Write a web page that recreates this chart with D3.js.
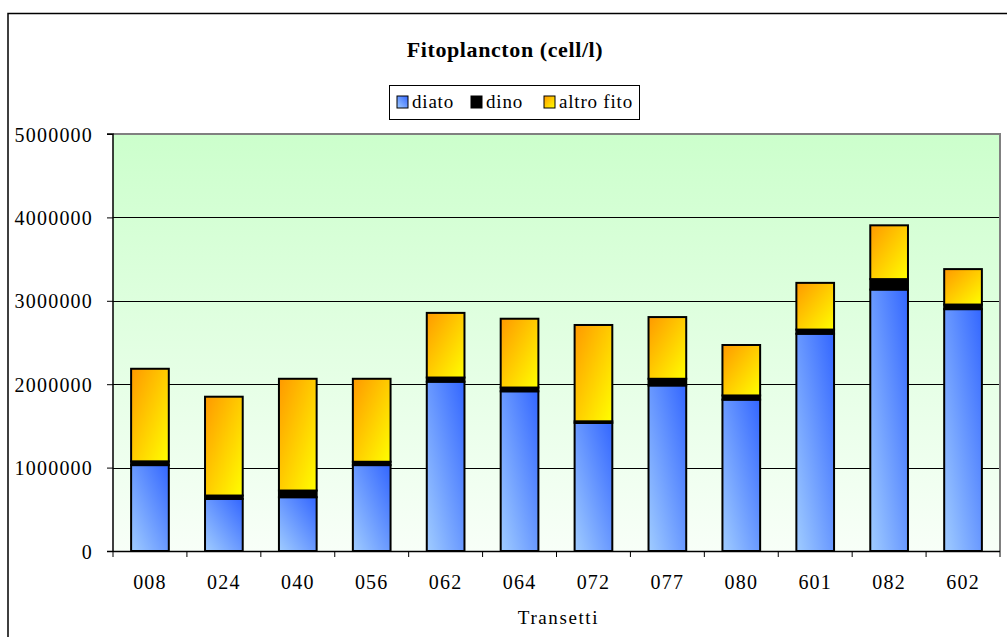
<!DOCTYPE html>
<html>
<head>
<meta charset="utf-8">
<script src="https://cdn.jsdelivr.net/npm/d3@7/dist/d3.min.js"></script>
<style>
  html, body { margin: 0; padding: 0; background: #ffffff; }
  svg { display: block; }
</style>
</head>
<body>
<svg id="chart" width="1007" height="637"></svg>
<script>
const categories = ["008","024","040","056","062","064","072","077","080","601","082","602"];
const diato = [1030000, 625000, 645000, 1030000, 2030000, 1915000, 1535000, 1985000, 1815000, 2605000, 3135000, 2900000];
const dino  = [45000, 40000, 80000, 40000, 50000, 45000, 20000, 80000, 50000, 50000, 125000, 55000];
const altro = [1110000, 1185000, 1340000, 995000, 775000, 825000, 1155000, 740000, 605000, 560000, 645000, 425000];
const seriesNames = ["diato", "dino", "altro fito"];
const yTicks = [0, 1000000, 2000000, 3000000, 4000000, 5000000];
const titleText = "Fitoplancton (cell/l)";
const xTitle = "Transetti";

const FONT = "'Liberation Serif', 'Times New Roman', serif";
const svg = d3.select("#chart");
const plot = { left: 113, right: 1000, top: 134, bottom: 551 };

const defs = svg.append("defs");
const bg = defs.append("linearGradient").attr("id", "bgGrad").attr("x1", 0).attr("y1", 0).attr("x2", 0).attr("y2", 1);
bg.append("stop").attr("offset", "0%").attr("stop-color", "#ccffcc");
bg.append("stop").attr("offset", "100%").attr("stop-color", "#f8fff8");

const blue = defs.append("linearGradient").attr("id", "blueGrad").attr("x1", 0).attr("y1", 1).attr("x2", 1).attr("y2", 0);
blue.append("stop").attr("offset", "0%").attr("stop-color", "#a0ccff");
blue.append("stop").attr("offset", "100%").attr("stop-color", "#3366ff");

const yel = defs.append("linearGradient").attr("id", "yelGrad").attr("x1", 0).attr("y1", 0).attr("x2", 1).attr("y2", 1);
yel.append("stop").attr("offset", "0%").attr("stop-color", "#ff9900");
yel.append("stop").attr("offset", "100%").attr("stop-color", "#ffff00");

const fills = ["url(#blueGrad)", "#000000", "url(#yelGrad)"];

// outer border
svg.append("rect").attr("x", 8).attr("y", 13.5).attr("width", 1010).attr("height", 640)
  .attr("fill", "#fff").attr("stroke", "#000").attr("stroke-width", 1.5);

const x = d3.scaleBand().domain(categories).range([plot.left, plot.right]).paddingInner(0.49).paddingOuter(0.245);
const xb = d3.scaleBand().domain(categories).range([plot.left, plot.right]);
const y = d3.scaleLinear().domain([0, 5000000]).range([plot.bottom, plot.top]);

// plot background
svg.append("rect").attr("x", plot.left).attr("y", plot.top)
  .attr("width", plot.right - plot.left).attr("height", plot.bottom - plot.top)
  .attr("fill", "url(#bgGrad)");

// gridlines
svg.append("g").selectAll("line").data(yTicks.filter(t => t > 0 && t < 5000000)).join("line")
  .attr("x1", plot.left).attr("x2", plot.right)
  .attr("y1", d => Math.round(y(d)) + 0.5).attr("y2", d => Math.round(y(d)) + 0.5)
  .attr("stroke", "#000").attr("stroke-width", 1);

// plot border top/right grey
svg.append("path")
  .attr("d", `M${plot.left},${plot.top} L${plot.right},${plot.top} L${plot.right},${plot.bottom}`)
  .attr("fill", "none").attr("stroke", "#808080").attr("stroke-width", 2);

// stacked data
const rows = categories.map((c, i) => ({ cat: c, diato: diato[i], dino: dino[i], altro: altro[i] }));
const stack = d3.stack().keys(["diato", "dino", "altro"]);
const layers = stack(rows);

svg.append("g").selectAll("g").data(layers).join("g")
  .attr("fill", (d, i) => fills[i])
  .selectAll("rect").data(d => d).join("rect")
  .attr("x", d => x(d.data.cat))
  .attr("width", x.bandwidth())
  .attr("y", d => y(d[1]))
  .attr("height", d => y(d[0]) - y(d[1]))
  .attr("stroke", "#000").attr("stroke-width", 2);

// y axis
const yAxis = d3.axisLeft(y).tickValues(yTicks).tickFormat(d3.format("d")).tickSize(6).tickPadding(14);
const gy = svg.append("g").attr("transform", `translate(${plot.left},0)`).call(yAxis);
gy.attr("font-family", null).attr("font-size", null);
gy.select(".domain").attr("stroke", "#000").attr("stroke-width", 1.5).attr("d", `M-6,${plot.top}H0V${plot.bottom}`);
gy.selectAll(".tick line").attr("stroke", "#000");
gy.selectAll(".tick text").style("font-family", FONT).style("font-size", "20px").style("letter-spacing", "1.2px")
  .attr("fill", "#000").attr("dy", "0.35em");

// x axis
const gx = svg.append("g").attr("transform", `translate(0,${plot.bottom})`);
gx.append("line").attr("x1", plot.left - 6).attr("x2", plot.right).attr("y1", 0.5).attr("y2", 0.5)
  .attr("stroke", "#000").attr("stroke-width", 1.5);
const bounds = categories.map(c => xb(c)).concat([plot.right]);
gx.selectAll("line.tk").data(bounds).join("line").attr("class", "tk")
  .attr("x1", d => d).attr("x2", d => d).attr("y1", 0).attr("y2", 6)
  .attr("stroke", "#000").attr("stroke-width", 1);
gx.selectAll("text").data(categories).join("text")
  .attr("x", d => xb(d) + xb.bandwidth() / 2).attr("y", 38)
  .attr("text-anchor", "middle")
  .style("font-family", FONT).style("font-size", "20px").style("letter-spacing", "1.2px")
  .text(d => d);

svg.append("text").attr("x", (plot.left + plot.right) / 2 + 2).attr("y", 624)
  .attr("text-anchor", "middle")
  .style("font-family", FONT).style("font-size", "19px").style("letter-spacing", "1.6px")
  .text(xTitle);

// title
svg.append("text").attr("x", 505).attr("y", 57).attr("text-anchor", "middle")
  .style("font-family", FONT).style("font-size", "22px").style("font-weight", "bold").style("letter-spacing", "0.6px")
  .text(titleText);

// legend
const lg = svg.append("g");
lg.append("rect").attr("x", 389.5).attr("y", 85.5).attr("width", 250).attr("height", 34)
  .attr("fill", "#fff").attr("stroke", "#000").attr("stroke-width", 1);
const legX = [397, 471, 544];
seriesNames.forEach((n, i) => {
  lg.append("rect").attr("x", legX[i]).attr("y", 96).attr("width", 11).attr("height", 12)
    .attr("fill", fills[i]).attr("stroke", "#000").attr("stroke-width", 1);
  lg.append("text").attr("x", legX[i] + 15).attr("y", 108)
    .style("font-family", FONT).style("font-size", "19px").style("letter-spacing", "0.8px")
    .text(n);
});
</script>
</body>
</html>
